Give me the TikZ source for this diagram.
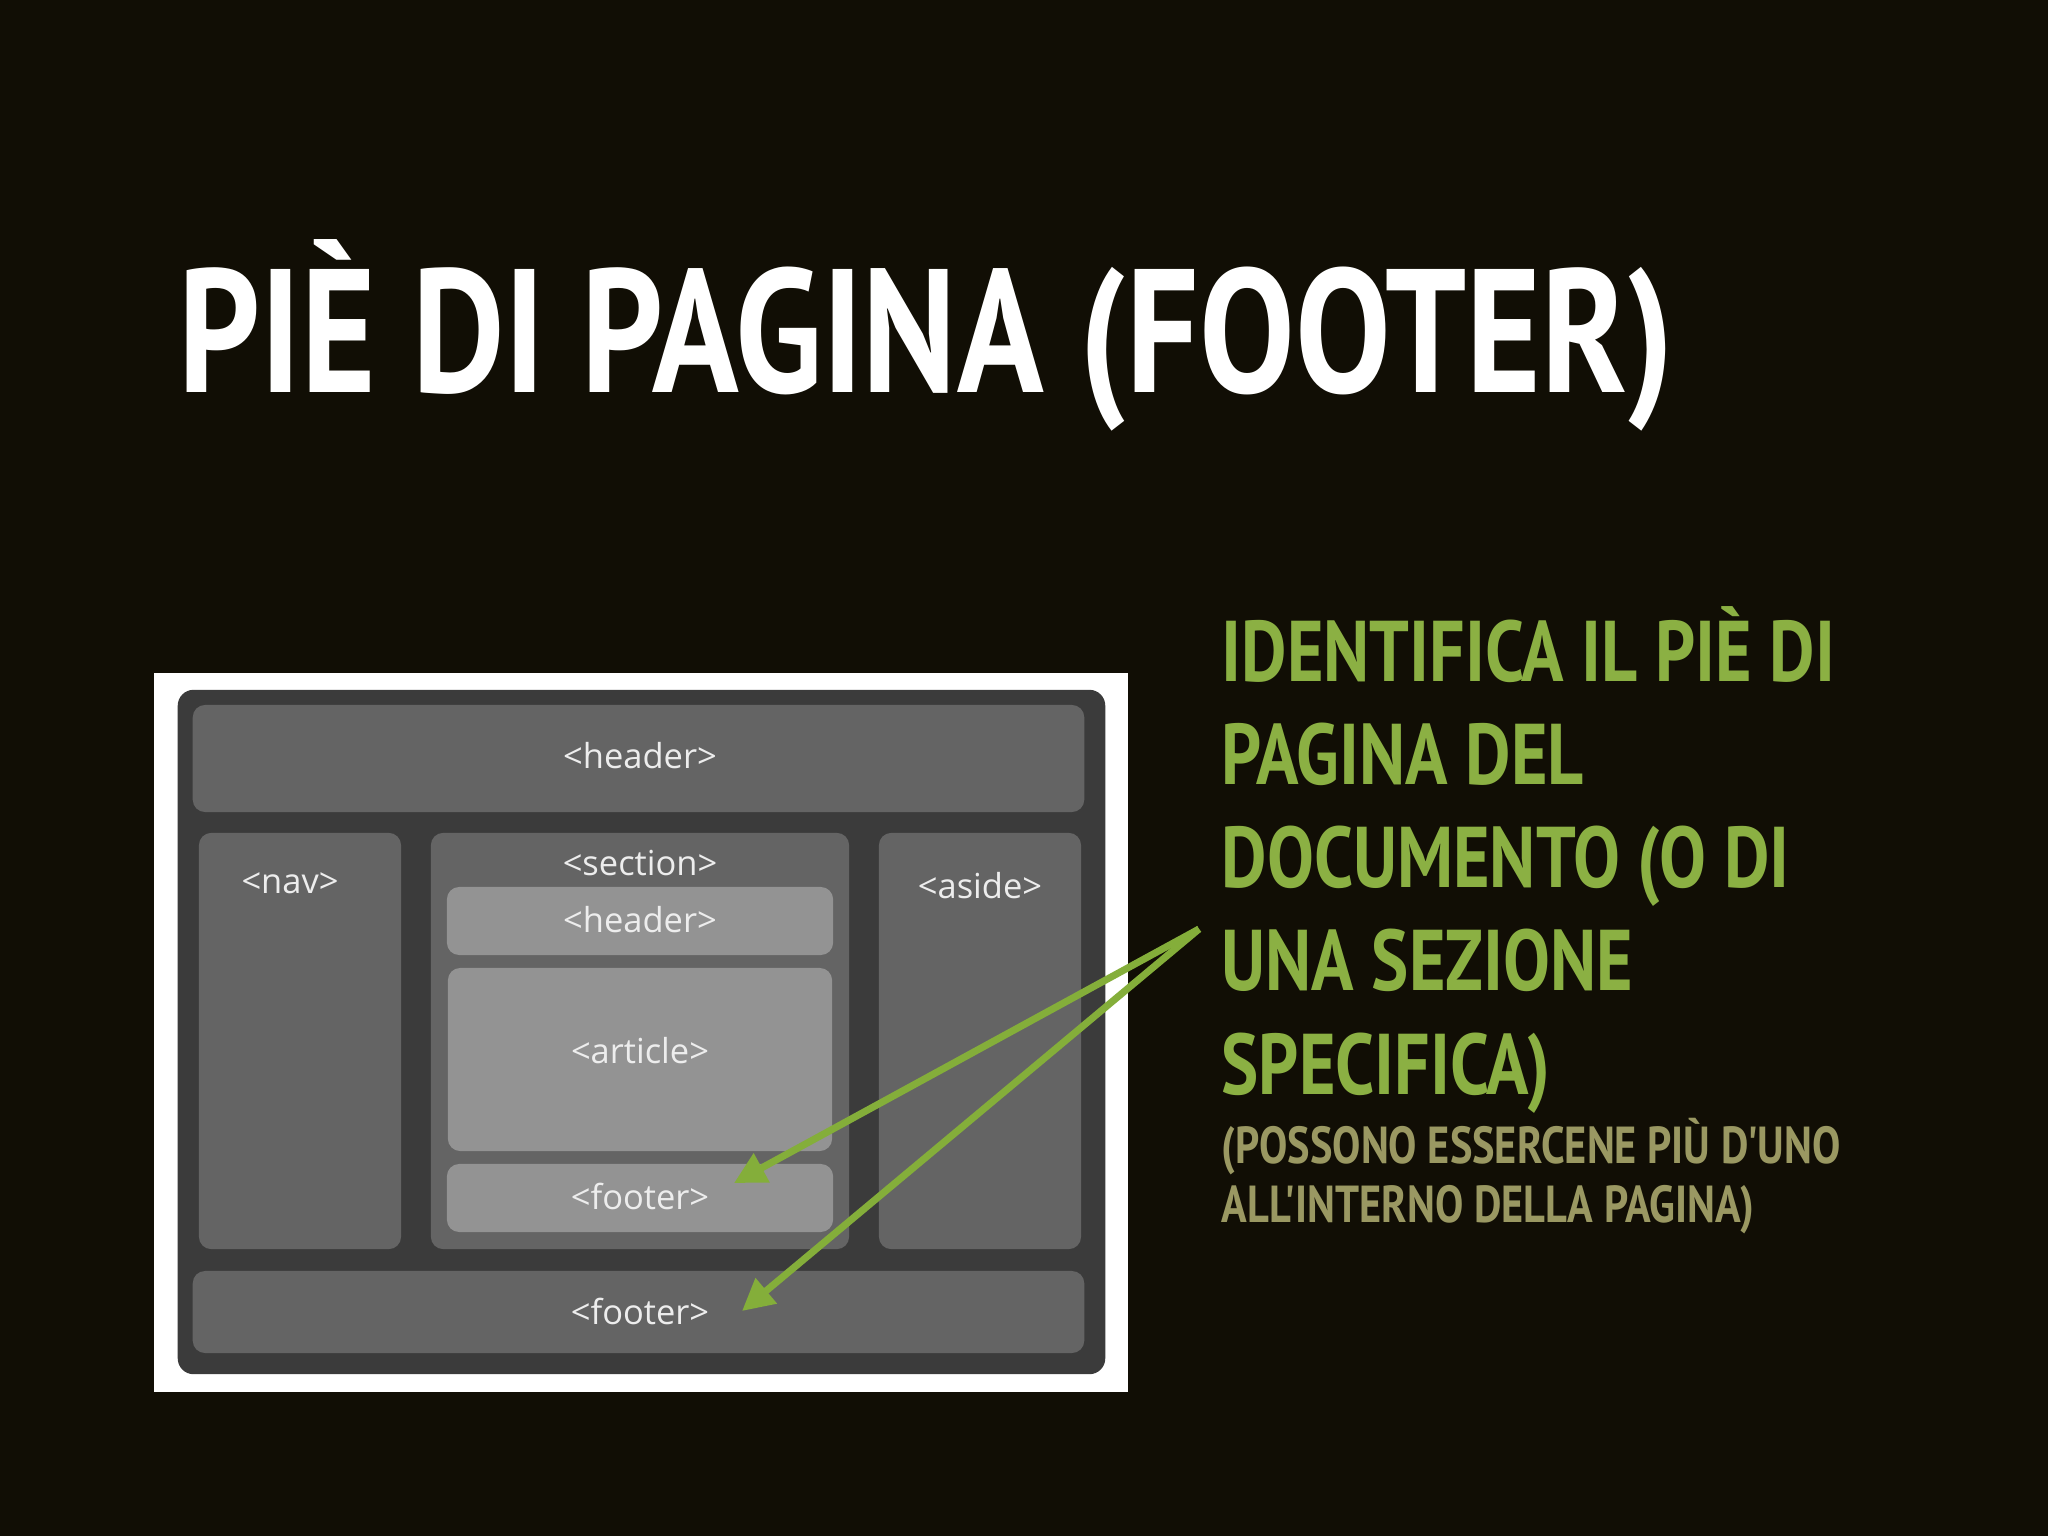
\documentclass[tikz,border=0pt]{standalone}
\usepackage{fontspec}
\setmainfont{PT Sans}
\newfontfamily\narrowfont{PT Sans}[FakeStretch=0.814]
\newfontfamily\boxfont{Open Sans}
\usetikzlibrary{arrows.meta}
\definecolor{slidebg}{HTML}{110E05}
\definecolor{leafgreen}{HTML}{8BB043}
\definecolor{arrowgreen}{HTML}{84AE3A}
\definecolor{olivetext}{HTML}{9A9862}
\definecolor{pagedark}{HTML}{3B3B3B}
\definecolor{panelgray}{HTML}{646464}
\definecolor{innergray}{HTML}{939393}
\definecolor{boxtext}{HTML}{EDEDED}

\begin{document}
\begin{tikzpicture}[x=0.01cm,y=-0.01cm,
	panel/.style={rectangle,rounded corners=3.5pt,inner sep=0pt},
	lbl/.style={font=\boxfont\fontsize{9.8}{11}\selectfont,text=boxtext,inner sep=0pt},
	pointer/.style={draw=arrowgreen,line width=2pt,-{Triangle[length=9pt,width=9pt]}}]
		%%%%% START %%%%%
		
		\fill[slidebg] (0, 0) rectangle (2048, 1536);
		
		\node[anchor=base west,inner sep=0pt,text=white,font=\narrowfont\bfseries\fontsize{50}{60}\selectfont] (title) at (178, 392) {PIÈ DI PAGINA (FOOTER)};
		
		% the layout picture
		\node[rectangle,fill=white,minimum width=9.74cm,minimum height=7.19cm] (frame) at (641, 1032.5) {};
		\node[panel,fill=pagedark,rounded corners=4.5pt,minimum width=9.27cm,minimum height=6.84cm] (page) at (641.5, 1032) {};
		
		\node[panel,fill=panelgray,minimum width=8.91cm,minimum height=1.07cm] (hdr) at (638.5, 758.5) {};
		\node[panel,fill=panelgray,minimum width=2.02cm,minimum height=4.16cm] (nav) at (300, 1041) {};
		\node[panel,fill=panelgray,minimum width=4.18cm,minimum height=4.16cm] (sect) at (640, 1041) {};
		\node[panel,fill=panelgray,minimum width=2.02cm,minimum height=4.16cm] (aside) at (980, 1041) {};
		\node[panel,fill=innergray,minimum width=3.86cm,minimum height=0.68cm] (shdr) at (640, 921) {};
		\node[panel,fill=innergray,minimum width=3.84cm,minimum height=1.83cm] (art) at (640, 1059.5) {};
		\node[panel,fill=innergray,minimum width=3.86cm,minimum height=0.68cm] (sftr) at (640, 1198) {};
		\node[panel,fill=panelgray,minimum width=8.91cm,minimum height=0.82cm] (ftr) at (638.5, 1312) {};
		
		\node[lbl] (hdrtxt) at (640, 756) {<header>};
		\node[lbl] (navtxt) at (290, 883) {<nav>};
		\node[lbl] (secttxt) at (640, 863) {<section>};
		\node[lbl] (asidetxt) at (980, 886) {<aside>};
		\node[lbl] (shdrtxt) at (640, 920) {<header>};
		\node[lbl] (arttxt) at (640, 1051) {<article>};
		\node[lbl] (sftrtxt) at (640, 1196) {<footer>};
		\node[lbl] (ftrtxt) at (640, 1311) {<footer>};
		
		% the green text (base = last line)
		\node[anchor=base west,align=left,inner sep=0pt,text=leafgreen,font=\narrowfont\bfseries\fontsize{24.5}{29.3}\selectfont] (idtext) at (1221, 1094) {IDENTIFICA IL PIÈ DI\\PAGINA DEL\\DOCUMENTO (O DI\\UNA SEZIONE\\SPECIFICA)};
		\node[anchor=base west,align=left,inner sep=0pt,text=olivetext,font=\narrowfont\bfseries\fontsize{14.8}{16.6}\selectfont] (note) at (1221, 1222) {(POSSONO ESSERCENE PIÙ D'UNO\\ALL'INTERNO DELLA PAGINA)};
		
		\coordinate (src) at (1199, 929);
		\coordinate (tip1) at (734, 1183);
		\coordinate (tip2) at (742, 1311);
		\draw[pointer] (src) -- (tip1);
		\draw[pointer] (src) -- (tip2);
		
		%%%%% END %%%%%
\end{tikzpicture}
\end{document}
